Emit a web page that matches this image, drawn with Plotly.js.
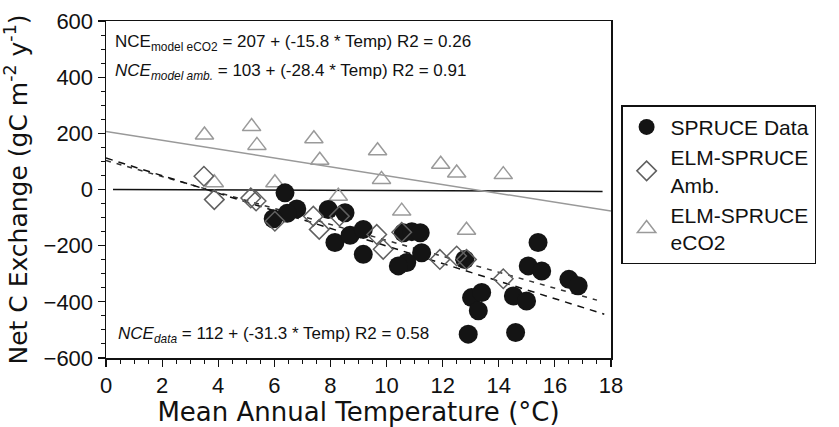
<!DOCTYPE html>
<html>
<head>
<meta charset="utf-8">
<script src="https://cdn.plot.ly/plotly-3.0.1.min.js"></script>
<style>html,body{margin:0;padding:0;background:#fff;}#chart{width:839px;height:427px;}</style>
</head>
<body>
<div id="chart"></div>
<script>
// SPRUCE observed data
var spruceT = [6.38, 6.8, 6.46, 5.96, 7.92, 8.52, 8.16, 8.70, 9.17, 9.17, 10.6, 10.9, 11.2, 11.25, 10.72, 10.42, 12.79, 15.4, 15.05, 15.53, 16.5, 16.83, 13.03, 13.39, 13.27, 14.52, 14.99, 12.91, 14.6];
var spruceV = [-12, -69, -85, -104, -71, -83, -189, -163, -142, -231, -154, -150, -154, -225, -260, -272, -249, -189, -272, -290, -320, -343, -385, -367, -432, -379, -397, -515, -509];
// ELM-SPRUCE ambient
var ambT = [3.49, 3.86, 5.16, 5.35, 6.02, 7.39, 7.6, 8.32, 9.65, 9.88, 10.54, 11.9, 12.5, 12.85, 14.16];
var ambV = [47, -36, -30, -41, -113, -95, -142, -95, -160, -213, -152, -249, -237, -249, -318];
// ELM-SPRUCE eCO2
var eco2T = [3.51, 3.86, 5.19, 5.38, 6.02, 7.41, 7.62, 8.28, 9.68, 9.82, 10.54, 11.93, 12.5, 12.85, 14.16];
var eco2V = [194, 24, 224, 157, 24, 181, 104, -24, 138, 36, -77, 90, 59, -145, 53];
// Fit / reference lines
var zeroT = [0.25, 17.7], zeroV = [0, -7];
var eco2FitT = [0, 18], eco2FitV = [207, -77];
var ambFitT = [0, 17.5], ambFitV = [103, -394];
var dataFitT = [0, 17.76], dataFitV = [112, -444];
// Labels
var legendNames = ["SPRUCE Data", "ELM-SPRUCE<br>Amb.", "ELM-SPRUCE<br>eCO2"];
var eqTexts = [
  "NCE<sub>model eCO2</sub> = 207 + (-15.8 * Temp) R2 = 0.26",
  "<i>NCE<sub>model amb.</sub></i> = 103 + (-28.4 * Temp) R2 = 0.91",
  "<i>NCE<sub>data</sub></i> = 112 + (-31.3 * Temp) R2 = 0.58"
];
var xTitle = "Mean Annual Temperature (°C)";
var yTitle = "Net C Exchange (gC m<sup>-2</sup> y<sup>-1</sup>)";

var traces = [
  {x: zeroT, y: zeroV, mode: "lines", line: {color: "#111", width: 1.5}, showlegend: false, hoverinfo: "skip"},
  {x: eco2FitT, y: eco2FitV, mode: "lines", line: {color: "#999", width: 1.5}, showlegend: false, hoverinfo: "skip"},
  {x: ambFitT, y: ambFitV, mode: "lines", line: {color: "#333", width: 1.5, dash: "5px,6px"}, showlegend: false, hoverinfo: "skip"},
  {x: dataFitT, y: dataFitV, mode: "lines", line: {color: "#111", width: 1.5, dash: "7px,6px"}, showlegend: false, hoverinfo: "skip"},
  {x: eco2T, y: eco2V, mode: "markers", name: legendNames[2], legendrank: 3,
   marker: {symbol: "triangle-up-open", size: 16, color: "#9a9a9a", line: {width: 1.5, color: "#9a9a9a"}}},
  {x: spruceT, y: spruceV, mode: "markers", name: legendNames[0], legendrank: 1,
   marker: {symbol: "circle", size: 19, color: "#141414", line: {width: 0}}},
  {x: ambT, y: ambV, mode: "markers", name: legendNames[1], legendrank: 2,
   marker: {symbol: "diamond-open", size: 15, color: "#606060", line: {width: 1.5, color: "#606060"}}}
];

var tickFont = {family: "Liberation Sans, Arial, sans-serif", size: 22, color: "#111"};
var layout = {
  width: 839, height: 427,
  margin: {l: 106, r: 228, t: 21, b: 69},
  paper_bgcolor: "#fff", plot_bgcolor: "#fff",
  showlegend: true,
  legend: {
    x: 1.02, y: 0.75, xanchor: "left", yanchor: "top",
    bordercolor: "#111", borderwidth: 1.5, bgcolor: "#fff",
    font: {family: "Liberation Sans, Arial, sans-serif", size: 21, color: "#111"},
    itemsizing: "trace", tracegroupgap: 0, itemwidth: 38, entrywidth: 205, entrywidthmode: "pixels"
  },
  xaxis: {
    range: [0, 18], dtick: 2, tick0: 0,
    ticks: "outside", ticklen: 7, tickwidth: 1.2, tickcolor: "#111",
    minor: {dtick: 0.5, ticks: "outside", ticklen: 4, tickcolor: "#111", tickwidth: 1},
    showline: true, linecolor: "#111", linewidth: 1.5, mirror: true,
    showgrid: false, zeroline: false,
    tickfont: tickFont,
    title: {text: xTitle, font: {family: "DejaVu Sans, sans-serif", size: 26, color: "#111"}, standoff: 8}
  },
  yaxis: {
    range: [-600, 600], dtick: 200, tick0: 0,
    ticks: "outside", ticklen: 7, tickwidth: 1.2, tickcolor: "#111",
    minor: {dtick: 50, ticks: "outside", ticklen: 4, tickcolor: "#111", tickwidth: 1},
    showline: true, linecolor: "#111", linewidth: 1.5, mirror: true,
    showgrid: false, zeroline: false,
    tickfont: tickFont,
    title: {text: yTitle, font: {family: "DejaVu Sans, sans-serif", size: 25, color: "#111"}, standoff: 10}
  },
  annotations: [
    {text: eqTexts[0], x: 0.013, y: 0.935, xref: "paper", yref: "paper", xanchor: "left", yanchor: "middle", showarrow: false,
     font: {family: "Liberation Sans, Arial, sans-serif", size: 17, color: "#111"}},
    {text: eqTexts[1], x: 0.013, y: 0.848, xref: "paper", yref: "paper", xanchor: "left", yanchor: "middle", showarrow: false,
     font: {family: "Liberation Sans, Arial, sans-serif", size: 17, color: "#111"}},
    {text: eqTexts[2], x: 0.02, y: 0.068, xref: "paper", yref: "paper", xanchor: "left", yanchor: "middle", showarrow: false,
     font: {family: "Liberation Sans, Arial, sans-serif", size: 17, color: "#111"}}
  ]
};

Plotly.newPlot("chart", traces, layout, {displayModeBar: false, staticPlot: true});
</script>
</body>
</html>
